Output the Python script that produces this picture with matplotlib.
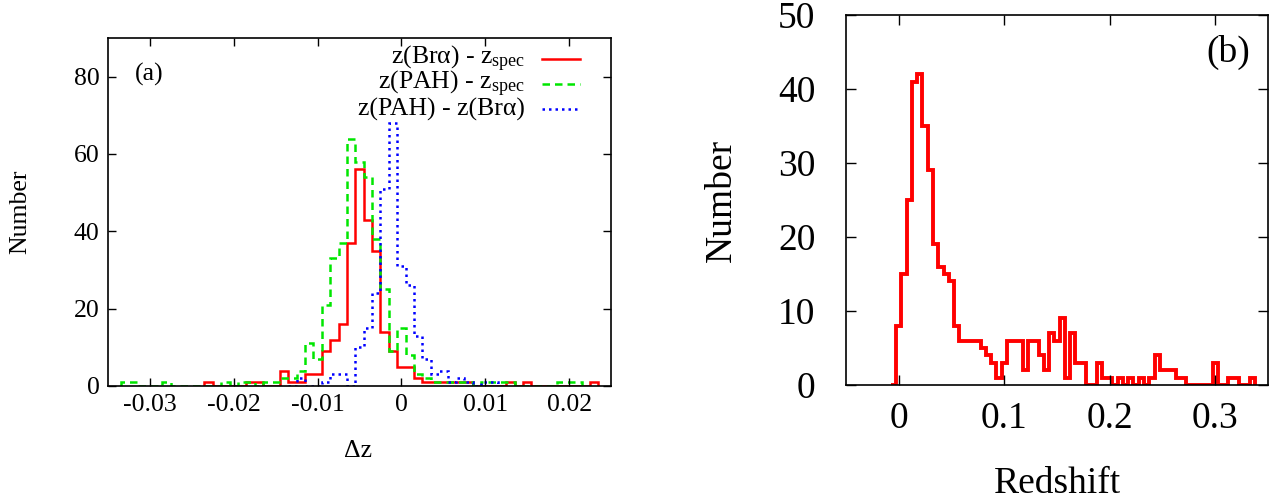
import matplotlib
matplotlib.use('Agg')
import matplotlib.pyplot as plt
import numpy as np

plt.rcParams['font.family'] = ['Liberation Serif', 'DejaVu Serif']
plt.rcParams['mathtext.fontset'] = 'custom'
plt.rcParams['mathtext.rm'] = 'Liberation Serif'
plt.rcParams['mathtext.it'] = 'Liberation Serif:italic'

# ---- panel (a): redshift differences, bins of 0.001 ----
dz_bin = 0.001
# index of the first bin centre (in units of dz_bin) and counts per bin
brg_spec_start = -23
brg_spec_counts = [1, 0, 0, 0, 0, 1, 1, 0, 0, 4, 1, 1, 3, 3, 9, 12, 16, 37, 56, 43,
                   35, 14, 9, 5, 5, 2, 1, 1, 1, 1, 1, 1, 0, 0, 0, 0, 1, 0, 1, 0,
                   0, 0, 0, 0, 0, 0, 1]
pah_spec_start = -33
pah_spec_counts = [1, 1, 0, 0, 0, 1, 0, 0, 0, 0, 0, 0, 1, 0, 1, 1, 0, 1, 1, 2,
                   2, 4, 11, 7, 21, 33, 37, 64, 58, 54, 38, 25, 9, 15, 8, 3, 2, 1, 1, 1,
                   1, 1, 0, 1, 1, 1, 1, 0, 0, 0, 0, 0, 1, 1, 1]
pah_brg_start = -13
pah_brg_counts = [0, 2, 0, 0, 1, 3, 3, 0, 10, 15, 24, 51, 68, 31, 26, 13, 7, 3, 4, 1,
                  2, 1, 0, 1, 1]
labels_a = [r'z(Brα) - z$_{\rm spec}$', r'z(PAH) - z$_{\rm spec}$',
            'z(PAH) - z(Brα)']
dz_ticks = [-0.03, -0.02, -0.01, 0, 0.01, 0.02]
dz_ticklabels = ['-0.03', '-0.02', '-0.01', '0', '0.01', '0.02']
num_ticks_a = [0, 20, 40, 60, 80]

# ---- panel (b): redshift distribution, bins of 0.005 ----
z_bin = 0.005
z_start = -1
z_counts = [0, 8, 15, 25, 41, 42, 35, 29, 19, 16,
            15, 14, 8, 6, 6, 6, 6, 5, 4, 3,
            1, 3, 6, 6, 6, 2, 6, 6, 4, 2,
            7, 6, 9, 1, 7, 3, 3, 0, 0, 3,
            1, 1, 0, 1, 0, 1, 0, 1, 0, 1,
            4, 2, 2, 2, 1, 1, 0, 0, 0, 0,
            0, 3, 0, 0, 1, 1, 0, 0, 1]
z_ticks = [0, 0.1, 0.2, 0.3]
z_ticklabels = ['0', '0.1', '0.2', '0.3']
num_ticks_b = [0, 10, 20, 30, 40, 50]


def edges(start, counts, width):
    centres = (start + np.arange(len(counts))) * width
    return np.append(centres - width / 2, centres[-1] + width / 2)


fig = plt.figure(figsize=(12.81, 5.01), dpi=100)
ax1 = fig.add_axes([108 / 1281, 115 / 501, 503 / 1281, 348 / 501])
ax2 = fig.add_axes([846 / 1281, 116 / 501, 422 / 1281, 370 / 501])

fs_a = 18.5
series = [
    (brg_spec_start, brg_spec_counts, '#ff0000', '-'),
    (pah_spec_start, pah_spec_counts, '#00e600', (0, (3, 2))),
    (pah_brg_start, pah_brg_counts, '#0000ff', (0, (1, 1.6))),
]
rows_y = [0.939, 0.867, 0.795]
for (start, counts, color, ls), label, ry in zip(series, labels_a, rows_y):
    ax1.stairs(counts, edges(start, counts, dz_bin), baseline=0,
               color=color, linestyle=ls, linewidth=1.8)
    # key: right-aligned text and a short line sample
    ax1.text(0.829, ry, label, transform=ax1.transAxes, ha='right', va='center',
             fontsize=fs_a)
    ax1.plot([0.863, 0.938], [ry, ry], transform=ax1.transAxes, color=color,
             linestyle=ls, linewidth=1.8)

ax1.set_xlim(-0.035, 0.025)
ax1.set_ylim(0, 90)
ax1.set_xticks(dz_ticks)
ax1.set_xticklabels(dz_ticklabels)
ax1.set_yticks(num_ticks_a)
ax1.tick_params(direction='in', top=True, right=True, length=6, width=1,
                labelsize=fs_a, pad=6)
ax1.set_xlabel('Δz', fontsize=fs_a)
ax1.xaxis.set_label_coords(0.497, -0.155)
ax1.set_ylabel('Number', fontsize=fs_a)
ax1.yaxis.set_label_coords(-0.152, 0.5)
ax1.text(0.054, 0.894, '(a)', transform=ax1.transAxes, ha='left', va='center',
         fontsize=fs_a)

fs_b = 27
ax2.stairs(z_counts, edges(z_start, z_counts, z_bin), baseline=0,
           color='#ff0000', linewidth=2.8)
ax2.set_xlim(-0.05, 0.35)
ax2.set_ylim(0, 50)
ax2.set_xticks(z_ticks)
ax2.set_xticklabels(z_ticklabels)
ax2.set_yticks(num_ticks_b)
ax2.tick_params(direction='in', top=True, right=True, length=7, width=1,
                labelsize=fs_b)
ax2.tick_params(axis='y', pad=22)
ax2.tick_params(axis='x', pad=12)
ax2.set_xlabel('Redshift', fontsize=fs_b)
ax2.xaxis.set_label_coords(0.5, -0.22)
ax2.set_ylabel('Number', fontsize=fs_b)
ax2.yaxis.set_label_coords(-0.255, 0.5)
ax2.text(0.957, 0.9, '(b)', transform=ax2.transAxes, ha='right', va='center',
         fontsize=fs_b)

for ax in (ax1, ax2):
    for sp in ax.spines.values():
        sp.set_linewidth(1.2)

fig.savefig('out.png', dpi=100)
